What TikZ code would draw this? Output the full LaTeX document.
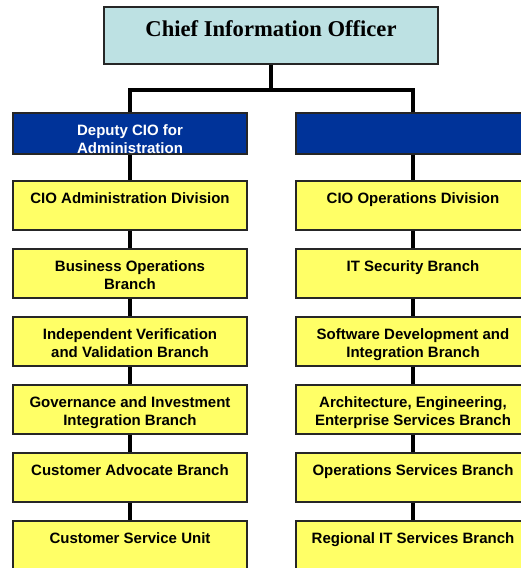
\documentclass[tikz,border=0pt]{standalone}
\usepackage{fontspec}
\setmainfont{Liberation Serif}
\newfontfamily\arialf{Liberation Sans}
\definecolor{cioblue}{RGB}{189,225,227}
\definecolor{depblue}{RGB}{0,51,153}
\definecolor{boxyellow}{RGB}{255,255,102}
\newcommand\boxlines[1]{\begin{tabular}[t]{@{}c@{}}#1\end{tabular}}
\begin{document}
\begin{tikzpicture}[x=1pt,y=-1pt,
  box/.style={draw=black!85,line width=1.2pt,rectangle,inner sep=0pt,minimum width=234pt},
  ybox/.style={box,fill=boxyellow,minimum height=49pt},
  dbox/.style={box,fill=depblue,minimum height=41pt},
  txt/.style={font=\arialf\bfseries\fontsize{15}{18.5}\selectfont,inner sep=0pt,anchor=base},
  conn/.style={line width=4pt,black}]
\clip (0,0) rectangle (521,568);
% top box
\node[draw=black!85,line width=1.2pt,fill=cioblue,minimum width=334pt,minimum height=57pt,inner sep=0pt] (cio) at (271,35.5) {};
\node[font=\bfseries\fontsize{22.6}{26}\selectfont,inner sep=0pt,anchor=base] (ciot) at (271,36) {Chief Information Officer};
\coordinate (j) at (271,90);
% deputy boxes
\node[dbox] (dl) at (130,133.5) {};
\node[dbox] (dr) at (413,133.5) {};
\node[txt,text=white] (dlt) at ([yshift=-23pt]dl.north) {\boxlines{Deputy CIO for\\Administration}};
% left column
\foreach \i/\t in {1/{CIO Administration Division},2/{Business Operations\\Branch},3/{Independent Verification\\and Validation Branch},4/{Governance and Investment\\Integration Branch},5/{Customer Advocate Branch},6/{Customer Service Unit}}{
  \node[ybox] (l\i) at (130,{181+68*(\i-1)+24.5}) {};
  \node[txt] (lt\i) at ([yshift=-23pt]l\i.north) {\boxlines{\t}};
}
\foreach \i/\t in {1/{CIO Operations Division},2/{IT Security Branch},3/{Software Development and\\Integration Branch},4/{Architecture, Engineering,\\Enterprise Services Branch},5/{Operations Services Branch},6/{Regional IT Services Branch}}{
  \node[ybox] (r\i) at (413,{181+68*(\i-1)+24.5}) {};
  \node[txt] (rt\i) at ([yshift=-23pt]r\i.north) {\boxlines{\t}};
}
% connectors
\draw[conn] (cio.south) -- (j);
\draw[conn] (dl.north) -- (dl.north |- j) -- (dr.north |- j) -- (dr.north);
\draw[conn] (dl.south) -- (l1.north);
\draw[conn] (dr.south) -- (r1.north);
\foreach \a/\b in {1/2,2/3,3/4,4/5,5/6}{
  \draw[conn] (l\a.south) -- (l\b.north);
  \draw[conn] (r\a.south) -- (r\b.north);
}
\end{tikzpicture}
\end{document}
